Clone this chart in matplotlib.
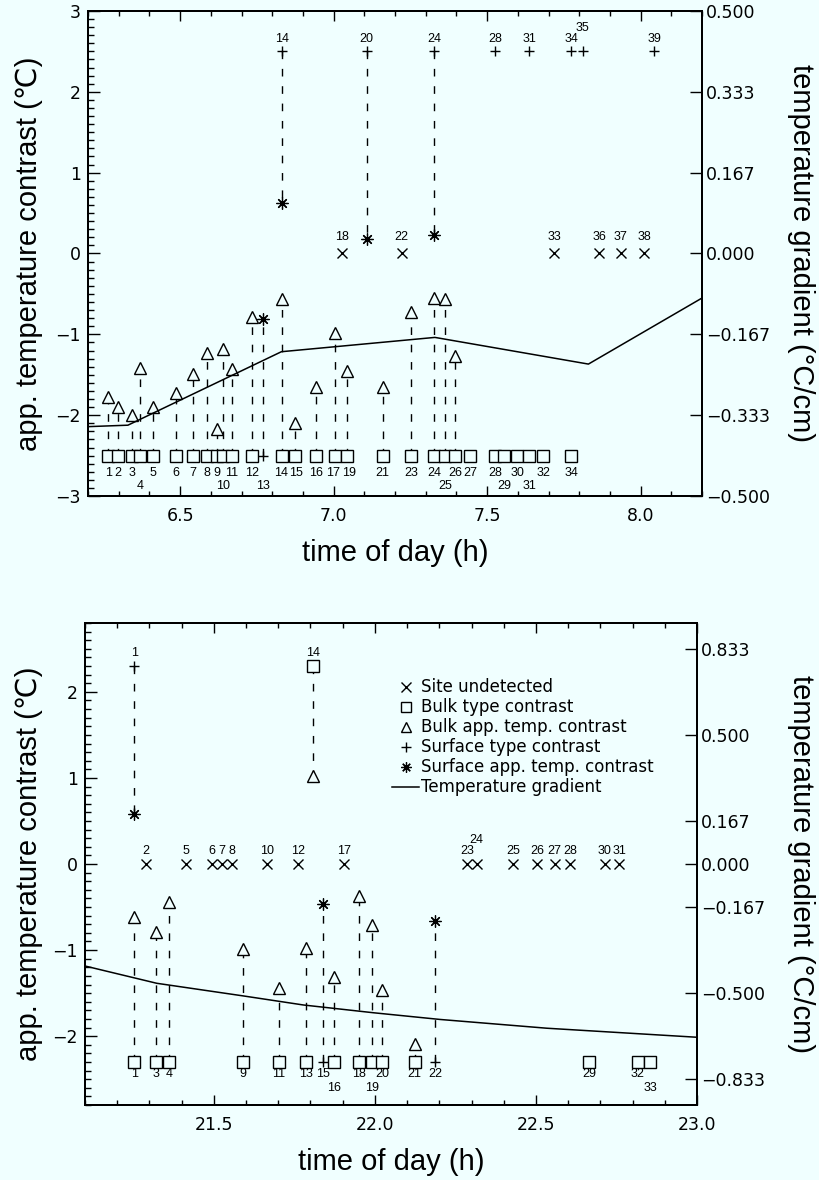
import matplotlib
matplotlib.use('Agg')
import matplotlib.pyplot as plt
from matplotlib.lines import Line2D
from matplotlib.ticker import MultipleLocator, FixedLocator, FuncFormatter

plt.rcParams['font.family'] = ['DejaVu Sans']
plt.rcParams['lines.scale_dashes'] = False
plt.rcParams['axes.unicode_minus'] = True

BG = '#F0FFFF'

# ---------------- top panel (morning) ----------------
top_site_id = list(range(1, 40))
top_site_time = [6.266, 6.297, 6.342, 6.369, 6.413, 6.487, 6.543, 6.587, 6.619, 6.641,
                 6.668, 6.733, 6.771, 6.831, 6.874, 6.943, 7.005, 7.026, 7.043, 7.108,
                 7.160, 7.222, 7.252, 7.328, 7.363, 7.395, 7.444, 7.527, 7.555, 7.598,
                 7.638, 7.683, 7.718, 7.774, 7.811, 7.865, 7.936, 8.011, 8.044]
top_undetected = [18, 22, 33, 36, 37, 38]
top_bulk_type_site = [1, 2, 3, 4, 5, 6, 7, 8, 9, 10, 11, 12, 14, 15, 16, 17, 19, 21,
                      23, 24, 25, 26, 27, 28, 29, 30, 31, 32, 34]
top_bulk_type_val = [-2.5, -2.5, -2.5, -2.5, -2.5, -2.5, -2.5, -2.5, -2.5, -2.5,
                     -2.5, -2.5, -2.5, -2.5, -2.5, -2.5, -2.5, -2.5, -2.5, -2.5,
                     -2.5, -2.5, -2.5, -2.5, -2.5, -2.5, -2.5, -2.5, -2.5]
top_bulk_app_site = [1, 2, 3, 4, 5, 6, 7, 8, 9, 10, 11, 12, 14, 15, 16, 17, 19, 21,
                     23, 24, 25, 26]
top_bulk_app_val = [-1.77, -1.90, -2.00, -1.42, -1.90, -1.73, -1.49, -1.235, -2.175, -1.185,
                    -1.43, -0.79, -0.567, -2.10, -1.648, -0.98, -1.45, -1.65,
                    -0.72, -0.555, -0.567, -1.27]
top_surf_type_site = [13, 14, 20, 24, 28, 31, 34, 35, 39]
top_surf_type_val = [-2.5, 2.5, 2.5, 2.5, 2.5, 2.5, 2.5, 2.5, 2.5]
top_surf_app_site = [13, 14, 20, 24]
top_surf_app_val = [-0.815, 0.62, 0.175, 0.23]
top_grad_time = [6.20, 6.33, 6.83, 7.33, 7.83, 8.33]
top_grad_val = [-0.357, -0.354, -0.2025, -0.173, -0.228, -0.044]
top_right_ticks = [-0.5, -1/3, -1/6, 0.0, 1/6, 1/3, 0.5]

# ---------------- bottom panel (evening) ----------------
bot_site_id = list(range(1, 34))
bot_site_time = [21.253, 21.288, 21.320, 21.362, 21.414, 21.493, 21.524, 21.556, 21.590,
                 21.666, 21.702, 21.762, 21.785, 21.807, 21.838, 21.873, 21.904, 21.952,
                 21.992, 22.023, 22.123, 22.187, 22.287, 22.316, 22.428, 22.503, 22.558,
                 22.606, 22.666, 22.713, 22.759, 22.816, 22.855]
bot_undetected = [2, 5, 6, 7, 8, 10, 12, 17, 23, 24, 25, 26, 27, 28, 30, 31]
bot_bulk_type_site = [1, 3, 4, 9, 11, 13, 14, 16, 18, 19, 20, 21, 29, 32, 33]
bot_bulk_type_val = [-2.3, -2.3, -2.3, -2.3, -2.3, -2.3, 2.3, -2.3, -2.3, -2.3,
                     -2.3, -2.3, -2.3, -2.3, -2.3]
bot_bulk_app_site = [1, 3, 4, 9, 11, 13, 14, 16, 18, 19, 20, 21]
bot_bulk_app_val = [-0.62, -0.787, -0.44, -0.99, -1.445, -0.98, 1.026, -1.317,
                    -0.372, -0.709, -1.464, -2.09]
bot_surf_type_site = [1, 15, 22]
bot_surf_type_val = [2.3, -2.3, -2.3]
bot_surf_app_site = [1, 15, 22]
bot_surf_app_val = [0.58, -0.465, -0.658]
bot_grad_time = [21.10, 21.323, 21.592, 21.778, 21.995, 22.202, 22.534, 23.0]
bot_grad_val = [-0.395, -0.462, -0.511, -0.546, -0.576, -0.602, -0.636, -0.671]
bot_right_ticks = [-5/6, -0.5, -1/6, 0.0, 1/6, 0.5, 5/6]

legend_labels = ['Site undetected', 'Bulk type contrast', 'Bulk app. temp. contrast',
                 'Surface type contrast', 'Surface app. temp. contrast',
                 'Temperature gradient']

# ---------------- styling ----------------
ASTER = (8, 2, 0)
MK = dict(ls='none', color='k', mfc=BG, mec='k', mew=1.0)
DASH = (0, (5.5, 7.0))
LABEL_FONT = ['Liberation Sans', 'DejaVu Sans']
NUM_FONT = ['Liberation Sans', 'DejaVu Sans']

fig = plt.figure(figsize=(8.19, 11.80), dpi=100, facecolor=BG)


def right_fmt(v, pos):
    return f'{v:.3f}'.replace('-', '\u2212')


def draw_panel(rect, xlim, ylim, ratio, site_id, site_time, undet, bt_s, bt_v,
               ba_s, ba_v, st_s, st_v, sa_s, sa_v, g_t, g_v, rticks, lay):
    tmap = dict(zip(site_id, site_time))
    ax = fig.add_axes(rect)
    ax.set_facecolor(BG)
    ax.set_xlim(*xlim)
    ax.set_ylim(*ylim)
    ax2 = ax.twinx()
    ax2.set_ylim(ylim[0] / ratio, ylim[1] / ratio)

    # dashed connectors
    bt = dict(zip(bt_s, bt_v))
    for s, v in zip(ba_s, ba_v):
        if s in bt:
            ax.plot([tmap[s], tmap[s]], [bt[s], v], color='k', lw=1.0, ls=DASH, zorder=1)
    st = dict(zip(st_s, st_v))
    for s, v in zip(sa_s, sa_v):
        if s in st:
            ax.plot([tmap[s], tmap[s]], [st[s], v], color='k', lw=1.0, ls=DASH, zorder=1)

    # markers
    ax.plot([tmap[s] for s in undet], [0.0] * len(undet), marker='x', ms=7.2, zorder=3, **MK)
    ax.plot([tmap[s] for s in bt_s], bt_v, marker='s', ms=8.6, zorder=3, **MK)
    ax.plot([tmap[s] for s in ba_s], ba_v, marker='^', ms=8.6, zorder=3, **MK)
    ax.plot([tmap[s] for s in st_s], st_v, marker='+', ms=7.2, zorder=3, **MK)
    ax.plot([tmap[s] for s in sa_s], sa_v, marker=ASTER, ms=8.6, zorder=3,
            ls='none', color='k', mec='k', mew=0.9)

    # site number labels
    def lab(s, v, off):
        dx = lay['nudge'].get(s, 0.0) if v < 0 else 0.0
        ax.annotate(str(s), (tmap[s], v), xytext=(dx, off), textcoords='offset points',
                    ha='center', va='center', fontsize=9, family=NUM_FONT, zorder=4)

    for s in undet:
        lab(s, 0.0, lay['x_hi'] if s in lay['x_raise'] else lay['x'])
    for ss, vv in ((bt_s, bt_v), (st_s, st_v)):
        for s, v in zip(ss, vv):
            if v > 0:
                lab(s, v, lay['up_hi'] if s in lay['up_raise'] else lay['up'])
            else:
                lab(s, v, lay['dn2'] if s in lay['dn_row2'] else lay['dn'])

    # temperature gradient
    ax2.plot(g_t, g_v, color='k', lw=1.1, zorder=2)

    # axes cosmetics
    ax.xaxis.set_major_locator(MultipleLocator(0.5))
    ax.xaxis.set_minor_locator(MultipleLocator(0.1))
    ax.yaxis.set_major_locator(MultipleLocator(1))
    ax.yaxis.set_minor_locator(MultipleLocator(0.1))
    ax.tick_params(axis='both', which='both', direction='in', top=True, right=False,
                   labelsize=12.5, width=1.0)
    ax.tick_params(axis='y', which='major', length=8.5, pad=5)
    ax.tick_params(axis='y', which='minor', length=4.5)
    ax.tick_params(axis='x', which='major', length=7, pad=8)
    ax.tick_params(axis='x', which='minor', length=3.5)
    ax2.yaxis.set_major_locator(FixedLocator(rticks))
    ax2.yaxis.set_major_formatter(FuncFormatter(right_fmt))
    ax2.yaxis.set_minor_locator(FixedLocator([]))
    ax2.tick_params(axis='y', which='major', direction='in', length=8.5, width=1.0,
                    pad=3, labelsize=12.5)
    for a in (ax, ax2):
        for sp in a.spines.values():
            sp.set_linewidth(1.4)

    ax.set_xlabel('time of day (h)', fontsize=21, family=LABEL_FONT)
    ax.set_ylabel('app. temperature contrast (\u2103)', fontsize=21, family=LABEL_FONT)
    ax2.set_ylabel('temperature gradient (\u00b0C/cm)', fontsize=21, family=LABEL_FONT,
                   rotation=270)
    ax.xaxis.set_label_coords(0.5, lay['xl'])
    ax.yaxis.set_label_coords(lay['yl'], 0.5)
    ax2.yaxis.set_label_coords(lay['yr'], 0.5)
    for t in (ax.xaxis.label, ax.yaxis.label, ax2.yaxis.label):
        t.set_va('center')
        t.set_ha('center')
    return ax, ax2


top_layout = dict(x=11.7, x_hi=11.7, x_raise=set(), up=8.9, up_hi=16.8, up_raise={35},
                  dn=-12.7, dn2=-21.8, dn_row2={4, 10, 13, 25, 29, 31},
                  nudge={14: -0.8, 15: 0.8, 17: -1.4, 19: 1.4},
                  xl=-0.117, yl=-0.096, yr=1.161)
bot_layout = dict(x=9.6, x_hi=17.6, x_raise={24}, up=9.6, up_hi=9.6, up_raise=set(),
                  dn=-8.6, dn2=-18.6, dn_row2={16, 19, 33}, nudge={},
                  xl=-0.119, yl=-0.0915, yr=1.170)

draw_panel([0.10745, 0.57966, 0.7497, 0.41102], (6.2, 8.2), (-3, 3), 6.0,
           top_site_id, top_site_time, top_undetected,
           top_bulk_type_site, top_bulk_type_val, top_bulk_app_site, top_bulk_app_val,
           top_surf_type_site, top_surf_type_val, top_surf_app_site, top_surf_app_val,
           top_grad_time, top_grad_val, top_right_ticks, top_layout)

axb, axb2 = draw_panel([0.10378, 0.06356, 0.74725, 0.40847], (21.1, 23.0), (-2.8, 2.8), 3.0,
                       bot_site_id, bot_site_time, bot_undetected,
                       bot_bulk_type_site, bot_bulk_type_val, bot_bulk_app_site, bot_bulk_app_val,
                       bot_surf_type_site, bot_surf_type_val, bot_surf_app_site, bot_surf_app_val,
                       bot_grad_time, bot_grad_val, bot_right_ticks, bot_layout)

handles = [
    Line2D([], [], marker='x', ms=6.5, **MK),
    Line2D([], [], marker='s', ms=7.0, **MK),
    Line2D([], [], marker='^', ms=7.0, **MK),
    Line2D([], [], marker='+', ms=7.0, **MK),
    Line2D([], [], marker=ASTER, ms=7.5, ls='none', color='k', mec='k', mew=0.9),
    Line2D([], [], color='k', lw=1.1),
]
axb2.legend(handles, legend_labels, loc='upper left', bbox_to_anchor=(0.502, 0.885),
            frameon=False, fontsize=12, handlelength=1.6, handletextpad=0.15,
            labelspacing=0.12, borderaxespad=0, borderpad=0)

fig.savefig('out.png', dpi=100, facecolor=BG)
